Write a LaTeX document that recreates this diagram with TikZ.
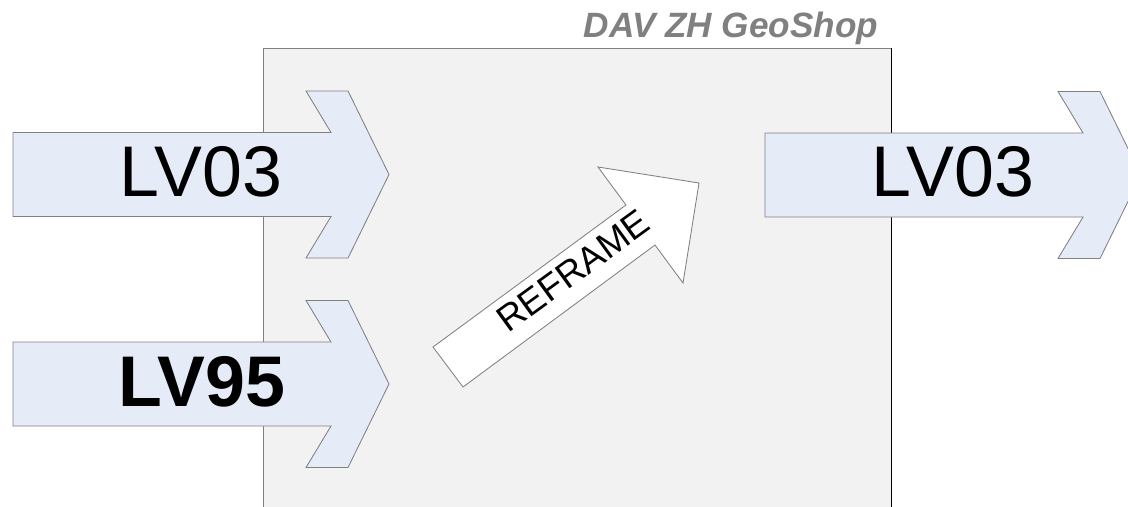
\documentclass[tikz,border=0pt]{standalone}
\usepackage{fontspec}
\setmainfont{Liberation Sans}
\definecolor{shopfill}{HTML}{F2F2F2}
\definecolor{arrowfill}{HTML}{E6ECF7}
\definecolor{edgegray}{HTML}{808080}
\tikzset{
  lvarrow/.pic={
    \draw[edgegray,fill=arrowfill] (0,-42) -- (318,-42) -- (293,-83.5) -- (335,-83.5) -- (376,0)
      -- (335,83.5) -- (293,83.5) -- (318,42) -- (0,42) -- cycle;
  },
  lvtext/.style={anchor=base,font=\fontsize{51}{60}\selectfont},
}
\begin{document}
\begin{tikzpicture}[x=0.025cm,y=-0.025cm,line width=0.6pt]
\useasboundingbox (0,0) rectangle (1128,506);
\clip (0,0) rectangle (1128,506);
\fill[white] (0,0) rectangle (1128,506);
% GeoShop box
\fill[shopfill] (263,48) rectangle (891,510);
\draw[edgegray] (263,510) -- (263,48) -- (891,48);
\draw (891,48) -- (891,510);
\node[anchor=base,text=edgegray,font=\fontsize{25}{30}\selectfont\bfseries\itshape] (shop) at (731,37) {DAV ZH GeoShop};
% Input arrows
\pic (inA) at (13,174.5) {lvarrow};
\pic (inB) at (13,384) {lvarrow};
% Output arrow
\pic (outA) at (765,175) {lvarrow};
\node[lvtext] (lvin) at (201,196) {LV03};
\node[lvtext,font=\fontsize{51}{60}\selectfont\bfseries] (lvnew) at (202,406.5) {LV95};
\node[lvtext] (lvout) at (953,196.5) {LV03};
% Reframe arrow
\draw[edgegray,fill=white] (433,347) -- (626,205) -- (598,167) -- (699,183) -- (683,283) -- (655,245) -- (463,387) -- cycle;
\node[rotate=36,inner sep=0pt,font=\fontsize{26}{30}\selectfont] (reframe) at (573,271) {REFRAME};
\end{tikzpicture}
\end{document}
